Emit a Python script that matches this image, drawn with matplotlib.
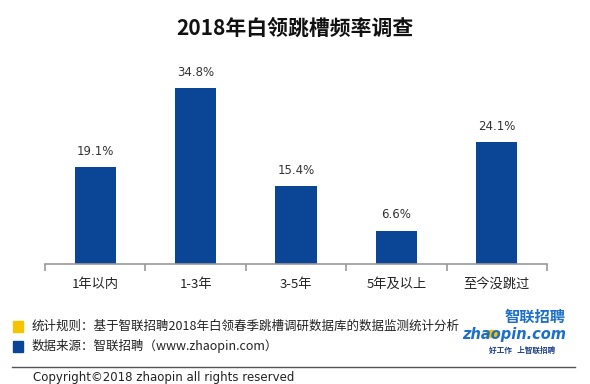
import matplotlib
matplotlib.use("Agg")
import matplotlib.pyplot as plt
from matplotlib.patches import Rectangle, Circle

plt.rcParams['font.family'] = ['Noto Sans CJK SC', 'DejaVu Sans']

# data
categories = ["1年以内", "1-3年", "3-5年", "5年及以上", "至今没跳过"]
values = [19.1, 34.8, 15.4, 6.6, 24.1]
value_labels = ["19.1%", "34.8%", "15.4%", "6.6%", "24.1%"]

title = "2018年白领跳槽频率调查"
note1 = "统计规则：基于智联招聘2018年白领春季跳槽调研数据库的数据监测统计分析"
note2 = "数据来源：智联招聘（www.zhaopin.com）"
copyright_text = "Copyright©2018 zhaopin all rights reserved"

bar_color = "#0B4596"
W, H = 590, 384

fig = plt.figure(figsize=(W / 100, H / 100), dpi=100)
fig.patch.set_facecolor("white")

# axes: x from 45 to 547 px, baseline at y=264, 40% -> 202 px
ax = fig.add_axes([45 / W, 1 - 264 / H, 502 / W, 202.4 / H])
x = range(len(categories))
ax.bar(x, values, width=0.41, color=bar_color, zorder=2)
ax.set_xlim(-0.5, len(categories) - 0.5)
ax.set_ylim(0, 40)
for i, v in enumerate(values):
    ax.text(i, v + 1.8, value_labels[i], ha="center", va="bottom",
            fontsize=8.5, color="#333333", family=['DejaVu Sans'])

for s in ["top", "right", "left"]:
    ax.spines[s].set_visible(False)
ax.spines["bottom"].set_color("#999999")
ax.spines["bottom"].set_linewidth(1.2)
ax.set_yticks([])
ax.set_xticks([i - 0.5 for i in range(len(categories) + 1)], minor=False)
ax.set_xticklabels([])
ax.tick_params(axis="x", length=5, color="#999999", width=1.2, direction="out")
for i, c in enumerate(categories):
    ax.text(i, -2.7, c, ha="center", va="top", fontsize=9.5, color="#222222")

# title
fig.text(0.5, 1 - 28 / H, title, ha="center", va="center",
         fontsize=15, fontweight="bold", color="#111111")

# footer
fig.patches.append(Rectangle((13 / W, 1 - 332 / H), 10 / W, 11 / H,
                             transform=fig.transFigure, color="#F5C400"))
fig.patches.append(Rectangle((13 / W, 1 - 352 / H), 10 / W, 11 / H,
                             transform=fig.transFigure, color="#0B4596"))
fig.text(32 / W, 1 - 326 / H, note1, ha="left", va="center",
         fontsize=9, color="#222222")
fig.text(32 / W, 1 - 346 / H, note2, ha="left", va="center",
         fontsize=9, color="#222222")
fig.add_artist(plt.Line2D([12 / W, 575 / W], [1 - 367 / H, 1 - 367 / H],
                          transform=fig.transFigure, color="#555555", lw=1))
fig.text(33 / W, 1 - 377 / H, copyright_text, ha="left", va="center",
         fontsize=8.5, color="#222222", family=['DejaVu Sans'])

# logo
fig.patches.append(Circle((492 / W, 1 - 334 / H), 5.5 / W,
                          transform=fig.transFigure, color="#F5C400"))
fig.text(566 / W, 1 - 317 / H, "智联招聘", ha="right", va="center",
         fontsize=11, fontweight="bold", style="italic", color="#1E6FC8")
fig.text(566 / W, 1 - 334 / H, "zhaopin.com", ha="right", va="center",
         fontsize=10.5, fontweight="bold", style="italic", color="#1E6FC8",
         family=['DejaVu Sans'])
fig.text(522 / W, 1 - 350 / H, "好工作   上智联招聘", ha="center", va="center",
         fontsize=5.5, fontweight="bold", color="#1B3F8A")

fig.savefig("out.png", dpi=100, facecolor="white")
